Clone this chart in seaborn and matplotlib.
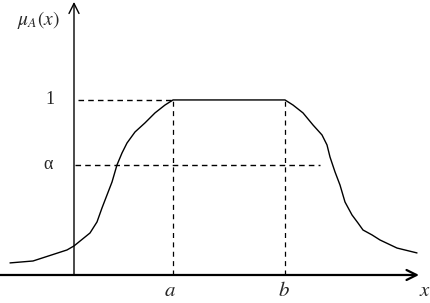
import matplotlib
matplotlib.use("Agg")
import matplotlib.pyplot as plt
import seaborn as sns
import pandas as pd

# membership curve (x in arbitrary units, origin at the vertical axis)
x_vals = [-0.64, -0.41, -0.07, 0.0, 0.16, 0.23, 0.28, 0.33, 0.38, 0.43, 0.48, 0.53, 0.61, 0.71,
          0.81, 0.91, 0.99,
          2.11, 2.19, 2.29, 2.39, 2.48, 2.53, 2.56, 2.61, 2.66, 2.71, 2.78, 2.84, 2.89, 2.98,
          3.06, 3.23, 3.43]
mu_vals = [0.069, 0.080, 0.143, 0.166, 0.240, 0.303, 0.383, 0.457, 0.531, 0.629, 0.697, 0.754,
           0.817, 0.869, 0.926, 0.971, 1.0,
           1.0, 0.971, 0.926, 0.857, 0.800, 0.743, 0.674, 0.589, 0.514, 0.417, 0.343, 0.297,
           0.257, 0.229, 0.200, 0.154, 0.126]
a_val = 0.99
b_val = 2.11
alpha_val = 0.629
alpha_end = 2.46
one_val = 1.0
tick_labels = ["1", "α"]
x_labels = ["a", "b", "x"]

sns.set_style("white")
plt.rcParams["mathtext.fontset"] = "stix"
plt.rcParams["font.family"] = ["Liberation Serif", "DejaVu Serif"]

fig = plt.figure(figsize=(4.31, 3.03), dpi=100)
ax = fig.add_axes([0, 0, 1, 1])
ax.set_xlim(-0.74, 3.57)
ax.set_ylim(-0.16, 1.571)
ax.axis("off")

df = pd.DataFrame({"x": x_vals, "mu": mu_vals})
sns.lineplot(data=df, x="x", y="mu", ax=ax, color="black", linewidth=1.0, sort=False, legend=False)

# axes with arrows
ax.annotate("", xy=(3.45, 0), xytext=(-0.74, 0),
            arrowprops=dict(arrowstyle="->", color="black", lw=1.6, mutation_scale=18, shrinkA=0, shrinkB=0))
ax.annotate("", xy=(0, 1.56), xytext=(0, 0),
            arrowprops=dict(arrowstyle="->", color="black", lw=1.0, mutation_scale=18, shrinkA=0, shrinkB=0))

dash = dict(color="black", linewidth=1.0, linestyle=(0, (4, 3)))
ax.plot([0.04, a_val], [one_val, one_val], **dash)
ax.plot([0.01, alpha_end], [alpha_val, alpha_val], **dash)
ax.plot([a_val, a_val], [0, one_val], linewidth=0.9, color="black", linestyle=(0, (4, 3.5)))
ax.plot([b_val, b_val], [0, one_val], linewidth=0.9, color="black", linestyle=(0, (4, 3.5)))

ax.text(-0.24, one_val, tick_labels[0], fontsize=13, ha="center", va="center")
ax.text(-0.26, alpha_val, tick_labels[1], fontsize=13, ha="center", va="center")
ax.text(a_val - 0.03, -0.15, "$\\mathit{" + x_labels[0] + "}$", fontsize=15, ha="center", va="bottom")
ax.text(b_val - 0.01, -0.15, "$\\mathit{" + x_labels[1] + "}$", fontsize=15, ha="center", va="bottom")
ax.text(3.51, -0.15, "$\\mathit{" + x_labels[2] + "}$", fontsize=15, ha="center", va="bottom")
ax.text(-0.36, 1.455, "$\\mu_A(x)$", fontsize=14, ha="center", va="center")

fig.savefig("out.png", dpi=100)
